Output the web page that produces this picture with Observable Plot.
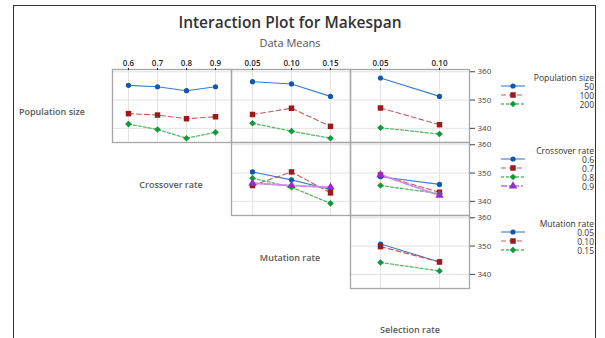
<!DOCTYPE html>
<html><head><meta charset="utf-8">
<script src="https://cdn.jsdelivr.net/npm/d3@7"></script>
<script src="https://cdn.jsdelivr.net/npm/@observablehq/plot@0.6"></script>
<style>
body{margin:0;background:#fff;}
#chart{position:relative;width:605px;height:338px;overflow:hidden;background:#fff;font-family:"Open Sans",sans-serif;}
#frame{position:absolute;left:13px;top:5px;width:581px;height:400px;border:1.5px solid #333;}
</style></head><body><div id="chart"><div id="frame"></div></div>
<script>
// ---- factor levels (tick labels) ----
const popLevels = ["50", "100", "200"];
const crossoverLevels = ["0.6", "0.7", "0.8", "0.9"];
const mutationLevels = ["0.05", "0.10", "0.15"];
const selectionLevels = ["0.05", "0.10"];

// ---- Population size (traces) vs Crossover rate (x) ----
const pop50_byCrossover = [355.2, 354.7, 353.3, 354.7];
const pop100_byCrossover = [345.2, 344.7, 343.4, 344.1];
const pop200_byCrossover = [341.5, 339.6, 336.5, 338.6];
// ---- Population size vs Mutation rate ----
const pop50_byMutation = [356.5, 355.7, 351.3];
const pop100_byMutation = [344.9, 347.1, 340.7];
const pop200_byMutation = [341.8, 339.0, 336.5];
// ---- Population size vs Selection rate ----
const pop50_bySelection = [357.8, 351.3];
const pop100_bySelection = [347.2, 341.3];
const pop200_bySelection = [340.2, 338.0];
// ---- Crossover rate vs Mutation rate ----
const cr06_byMutation = [350.4, 347.6, 344.2];
const cr07_byMutation = [345.6, 350.4, 343.0];
const cr08_byMutation = [348.2, 345.0, 339.3];
const cr09_byMutation = [346.4, 345.6, 345.0];
// ---- Crossover rate vs Selection rate ----
const cr06_bySelection = [348.7, 346.0];
const cr07_bySelection = [349.3, 343.2];
const cr08_bySelection = [345.6, 342.7];
const cr09_bySelection = [349.4, 342.1];
// ---- Mutation rate vs Selection rate ----
const mr005_bySelection = [350.7, 344.4];
const mr010_bySelection = [349.8, 344.4];
const mr015_bySelection = [344.2, 341.2];

const yTicks = [340, 350, 360];

// ---- styles (kept apart from the data) ----
const styles = [
  {line: "#3b7bcf", marker: "#1456a8", w: 1.1, dash: null, symbol: "circle", r: 2.6, d3sym: d3.symbolCircle},
  {line: "#c45a5a", marker: "#9b1a1a", w: 1.1, dash: "5,3", symbol: "square", r: 3.1, d3sym: d3.symbolSquare},
  {line: "#5cb86a", marker: "#11993a", w: 1.3, dash: "3,2", symbol: "diamond2", r: 3.0, d3sym: d3.symbolDiamond2},
  {line: "#cf8ce6", marker: "#9a2bc8", w: 2, dash: "6,2,2,2", symbol: "triangle", r: 3.1, d3sym: d3.symbolTriangle}
];

const chart = document.getElementById("chart");
const FONT = "'Open Sans', sans-serif";

function addText(txt, x, y, o) {
  const d = document.createElement("div");
  d.textContent = txt;
  const tx = o.anchor === "middle" ? "-50%" : o.anchor === "end" ? "-100%" : "0";
  Object.assign(d.style, {position: "absolute", left: x + "px", top: y + "px", fontSize: o.size + "px",
    fontWeight: o.weight || 400, color: o.color || "#333", whiteSpace: "nowrap", lineHeight: "1",
    fontFamily: FONT, transform: `translate(${tx},-50%)`});
  chart.appendChild(d);
}

const PW = 119, PH = 73;
function panel(left, top, levels, series, showTop, showRight) {
  const data = [];
  series.forEach((vals, si) => vals.forEach((v, i) => data.push({x: levels[i], y: v, s: si})));
  const mt = showTop ? 14 : 0, mr = showRight ? 26 : 0;
  const marks = [
    Plot.gridX({stroke: "#e3e3e3", strokeOpacity: 1}),
    Plot.gridY({ticks: yTicks, stroke: "#e3e3e3", strokeOpacity: 1}),
    Plot.frame({stroke: "#a6a6a6", strokeWidth: 1.3})
  ];
  series.forEach((_, si) => {
    const st = styles[si];
    const sub = data.filter(d => d.s === si);
    marks.push(Plot.line(sub, {x: "x", y: "y", stroke: st.line, strokeWidth: st.w, strokeDasharray: st.dash}));
    marks.push(Plot.dot(sub, {x: "x", y: "y", symbol: () => st.symbol, fill: st.marker, r: st.r}));
  });
  if (showTop) marks.push(Plot.axisX({anchor: "top", tickSize: 2, tickPadding: 2, color: "#222", fontWeight: 600, fontSize: 8, label: null}));
  if (showRight) marks.push(Plot.axisY({anchor: "right", ticks: yTicks, tickSize: 5, tickPadding: 3, color: "#444", fontSize: 8, label: null}));
  const svg = Plot.plot({
    width: PW + mr, height: PH + mt,
    marginLeft: 0, marginRight: mr, marginTop: mt, marginBottom: 0,
    style: {fontFamily: FONT, fontSize: "8px", background: "transparent", overflow: "visible"},
    x: {type: "point", domain: levels, padding: 0.5, axis: null},
    y: {domain: [335, 360.8], axis: null},
    symbol: {type: "identity"},
    marks
  });
  svg.style.position = "absolute";
  svg.style.left = left + "px";
  svg.style.top = (top - mt) + "px";
  chart.appendChild(svg);
}

const colX = [112, 231, 350];
const rowY = [69, 142, 215];

panel(colX[0], rowY[0], crossoverLevels, [pop50_byCrossover, pop100_byCrossover, pop200_byCrossover], true, false);
panel(colX[1], rowY[0], mutationLevels, [pop50_byMutation, pop100_byMutation, pop200_byMutation], true, false);
panel(colX[2], rowY[0], selectionLevels, [pop50_bySelection, pop100_bySelection, pop200_bySelection], true, true);
panel(colX[1], rowY[1], mutationLevels, [cr06_byMutation, cr07_byMutation, cr08_byMutation, cr09_byMutation], false, false);
panel(colX[2], rowY[1], selectionLevels, [cr06_bySelection, cr07_bySelection, cr08_bySelection, cr09_bySelection], false, true);
panel(colX[2], rowY[2], selectionLevels, [mr005_bySelection, mr010_bySelection, mr015_bySelection], false, true);

// titles
addText("Interaction Plot for Makespan", 290, 23, {size: 15.5, weight: 600, color: "#333", anchor: "middle"});
addText("Data Means", 290, 42, {size: 11, weight: 400, color: "#555", anchor: "middle"});

// diagonal factor labels
const factorNames = ["Population size", "Crossover rate", "Mutation rate", "Selection rate"];
const diagX = [52, 171, 290, 410];
const diagY = [111, 184, 257, 329];
factorNames.forEach((n, i) => addText(n, diagX[i], diagY[i], {size: 9, weight: 600, color: "#5a5a5a", anchor: "middle"}));

// legends: one wrapped, right-aligned text block per legend, plus line/marker swatches
const LH = 9;
function legend(title, labels, titleY) {
  const block = document.createElement("div");
  Object.assign(block.style, {position: "absolute", right: (605 - 594) + "px", top: (titleY - LH / 2) + "px",
    fontSize: "8.5px", lineHeight: LH + "px", textAlign: "right", color: "#333", fontFamily: FONT, whiteSpace: "pre"});
  block.textContent = [title, ...labels].join("\n");
  chart.appendChild(block);
  labels.forEach((lab, i) => {
    const y = titleY + LH * (i + 1);
    const st = styles[i];
    const svg = d3.create("svg").attr("width", 26).attr("height", 10)
      .style("position", "absolute").style("left", "500px").style("top", (y - 5) + "px");
    svg.append("line").attr("x1", 1).attr("x2", 25).attr("y1", 5).attr("y2", 5)
      .attr("stroke", st.line).attr("stroke-width", st.w).attr("stroke-dasharray", st.dash);
    svg.append("path").attr("d", d3.symbol(st.d3sym, Math.PI * st.r * st.r)())
      .attr("transform", "translate(13,5)").attr("fill", st.marker);
    chart.appendChild(svg.node());
  });
}
legend("Population size", popLevels, 77);
legend("Crossover rate", crossoverLevels, 150);
legend("Mutation rate", mutationLevels, 223);
</script></body></html>
